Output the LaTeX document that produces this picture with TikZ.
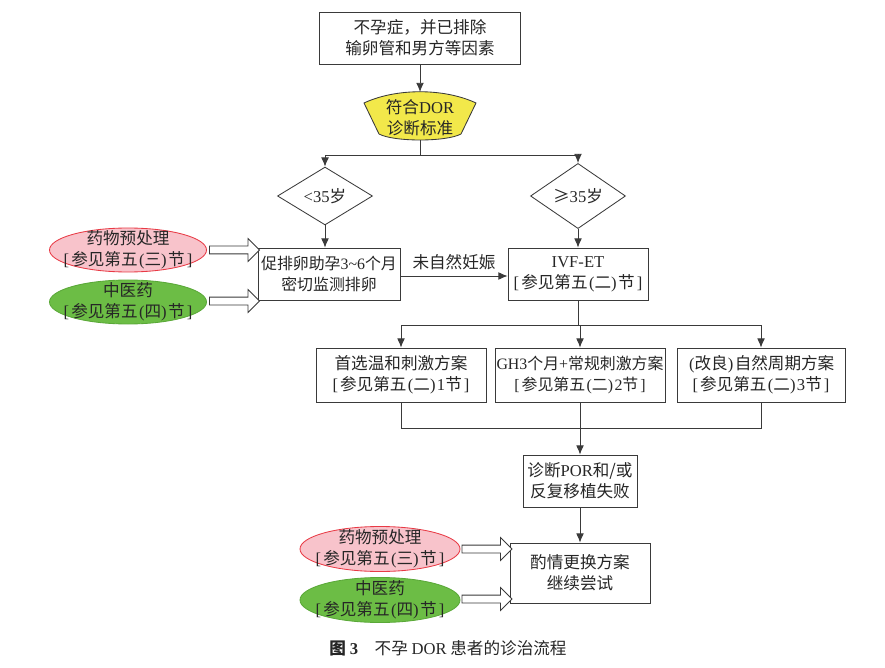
\documentclass[tikz,border=0pt]{standalone}
\usepackage{fontspec}
\setmainfont{Noto Sans CJK SC}
\newfontfamily\latinfont{Liberation Serif}
\usetikzlibrary{shapes.geometric,shapes.arrows,arrows.meta}

\definecolor{linegray}{HTML}{3A3A3A}
\definecolor{pinkfill}{HTML}{F8C3CB}
\definecolor{pinkline}{HTML}{E83A45}
\definecolor{greenfill}{HTML}{6CBD45}
\definecolor{greenline}{HTML}{5AA838}
\definecolor{yellowfill}{HTML}{F2E84A}

\def\u{0.025cm}
\newcommand\LB{{\latinfont [\kern1.5pt}}
\newcommand\RB{{\latinfont \kern1.5pt]}}
\newcommand\LP{{\latinfont \kern1pt(}}
\newcommand\RP{{\latinfont )\kern1pt}}

\begin{document}
\begin{tikzpicture}[x=0.025cm, y=-0.025cm, font=\fontsize{11.8}{15}\selectfont, text=black!85]
	\tikzstyle{Box}		= [rectangle, draw=linegray, line width=0.6pt, fill=white, align=center, inner sep=0pt]
	\tikzstyle{Choice}	= [diamond, draw=linegray, line width=0.6pt, inner sep=0pt, minimum width=95*\u, minimum height=36*\u]
	\tikzstyle{Drug}	= [ellipse, draw=pinkline, fill=pinkfill, line width=0.6pt, inner sep=0pt]
	\tikzstyle{TCM}		= [ellipse, draw=greenline, fill=greenfill, line width=0.6pt, inner sep=0pt]
	\tikzstyle{Hollow}	= [single arrow, draw=linegray, fill=white, line width=0.6pt, minimum height=50*\u, inner sep=3.5*\u, single arrow head extend=7.5*\u]
	\tikzstyle{Arr}		= [-{Latex[length=6.5pt,width=5.5pt]}, draw=linegray, line width=0.6pt]
	\tikzstyle{Line}	= [draw=linegray, line width=0.6pt]
	\tikzstyle{Small}	= [font=\fontsize{11.3}{15}\selectfont]

	\useasboundingbox (0,0) rectangle (885,668);

	% main column
	\node (top) at (420, 38) [Box, minimum width=201*\u, minimum height=52*\u] {不孕症，并已排除\\输卵管和男方等因素};
	\filldraw [fill=yellowfill, draw=linegray, line width=0.6pt] (364,103) .. controls (396,88) and (444,88) .. (476,103) -- (461,134) .. controls (446,142) and (394,142) .. (379,134) -- cycle;
	\node (ok) at (420, 118) [align=center] {符合{\latinfont DOR}\\诊断标准};
	\coordinate (okt) at (420, 92);
	\coordinate (okb) at (420, 140);
	\coordinate (split) at (420, 155);

	\node (dlt) at (325, 196) [Choice] {{\latinfont <35}岁};
	\node (dge) at (578, 196) [Choice] {≥{\latinfont 35}岁};

	\node (prom) at (329, 274) [Box, Small, minimum width=142*\u, minimum height=52*\u] {促排卵助孕{\latinfont 3\char`~6}个月\\密切监测排卵};
	\node (ivf) at (578, 274) [Box, minimum width=140*\u, minimum height=52*\u] {{\latinfont IVF-ET}\\\LB 参见第五\LP 二\RP 节\RB};

	\node (drug1) at (128, 250) [Drug, minimum width=157*\u, minimum height=44*\u,
		label={[align=center]center:药物预处理\\\LB 参见第五\LP 三\RP 节\RB}] {};
	\node (tcm1) at (128, 302) [TCM, minimum width=157*\u, minimum height=44*\u,
		label={[align=center]center:中医药\\\LB 参见第五\LP 四\RP 节\RB}] {};
	\node (h1) at (232.5, 250) [Hollow] {};
	\node (h2) at (232.5, 301) [Hollow] {};

	% three protocols
	\node (p1) at (401, 375) [Box, minimum width=170*\u, minimum height=54*\u] {首选温和刺激方案\\\LB 参见第五\LP 二\RP{\latinfont 1}节\RB};
	\node (p2) at (580, 375) [Box, Small, minimum width=170*\u, minimum height=54*\u] {{\latinfont GH3}个月{\latinfont +}常规刺激方案\\\LB 参见第五\LP 二\RP{\latinfont 2}节\RB};
	\node (p3) at (761, 375) [Box, minimum width=168*\u, minimum height=54*\u] {\LP 改良\RP 自然周期方案\\\LB 参见第五\LP 二\RP{\latinfont 3}节\RB};
	\coordinate (fork) at (578, 325);
	\coordinate (join) at (580, 428);

	\node (diag) at (580, 481) [Box, minimum width=114*\u, minimum height=52*\u] {诊断{\latinfont POR}和/或\\反复移植失败};
	\node (final) at (580, 573) [Box, minimum width=140*\u, minimum height=60*\u] {酌情更换方案\\继续尝试};

	\node (drug2) at (380, 549) [Drug, minimum width=160*\u, minimum height=45*\u,
		label={[align=center]center:药物预处理\\\LB 参见第五\LP 三\RP 节\RB}] {};
	\node (tcm2) at (380, 600) [TCM, minimum width=160*\u, minimum height=45*\u,
		label={[align=center]center:中医药\\\LB 参见第五\LP 四\RP 节\RB}] {};
	\node (h3) at (485, 549) [Hollow] {};
	\node (h4) at (485, 599) [Hollow] {};

	% connectors
	\draw [Arr] (top) -- (okt);
	\draw [Line] (okb) -- (split);
	\draw [Arr] (split) -| (dlt.north);
	\draw [Arr] (split) -| (dge.north);
	\draw [Arr] (dlt.south) -- (dlt.south |- prom.north);
	\draw [Arr] (dge) -- (ivf);
	\draw [Arr] (prom.east |- 0,276) -- node[above=1pt] {未自然妊娠} (ivf.west |- 0,276);
	\draw [Line] (ivf) -- (fork);
	\foreach \p in {p1, p2, p3}
		\draw [Arr] (fork) -| (\p.north);
	\foreach \p in {p1, p2, p3}
		\draw [Line] (\p.south) |- (join);
	\draw [Arr] (join) -- (diag);
	\draw [Arr] (diag) -- (final);

	% caption
	\node (cap) at (448, 648) {\textbf{图 {\latinfont 3}}\quad 不孕 {\latinfont DOR} 患者的诊治流程};
\end{tikzpicture}
\end{document}
